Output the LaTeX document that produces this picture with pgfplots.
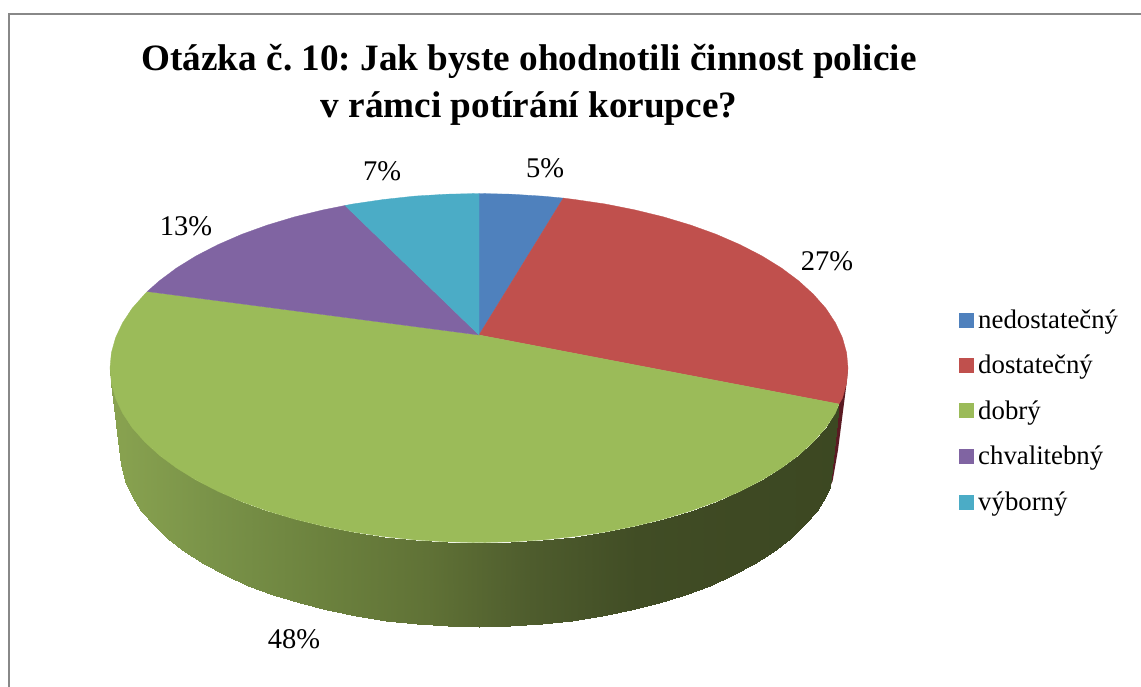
\documentclass[border=0pt]{standalone}
\usepackage{pgfplots}
\pgfplotsset{compat=1.18}
\usepackage{fontspec}
\setmainfont{Liberation Serif}
\definecolor{cblue}{RGB}{79,129,189}
\definecolor{cred}{RGB}{192,80,77}
\definecolor{cgreen}{RGB}{155,187,89}
\definecolor{cpurple}{RGB}{128,100,162}
\definecolor{ccyan}{RGB}{75,172,198}
\definecolor{cframe}{RGB}{136,136,136}
\definecolor{cdred}{RGB}{90,26,34}
\begin{document}
\frenchspacing
\begin{tikzpicture}
\begin{axis}[
  width=1141pt,height=687pt,scale only axis,
  xmin=0,xmax=1141,ymin=0,ymax=687,y dir=reverse,
  hide axis,clip=true,
  colormap={sidegreen}{rgb255=(137,163,80); rgb255=(121,146,72); rgb255=(108,130,62); rgb255=(96,114,54); rgb255=(78,92,45); rgb255=(65,77,37); rgb255=(62,73,35); rgb255=(60,72,34)},
  point meta min=110,point meta max=848,
]
% background and frame
\addplot[fill=white,draw=none] coordinates {(0,0)(1141,0)(1141,687)(0,687)} -- cycle;
\addplot[cframe,line width=2.5pt] coordinates {(1145,14)(9,14)(9,692)};
% hidden part of the red slice's side
\addplot[fill=cdred,draw=none] coordinates {(848,368)(846.6,383.2)(838,450)(832.6,481)(830,487)(839,404)} -- cycle;
% green slice side
\addplot[surf,shader=interp,mesh/rows=2,point meta=x] coordinates {
(839,404)(835.4,413.2)(825.8,427.7)(813.4,441.7)(798.6,455.3)(781.3,468.1)(761.7,480.2)(739.9,491.4)(716.2,501.7)(690.7,510.9)(663.5,519.1)(634.9,526.1)(605.2,532)(574.5,536.5)(543.1,539.9)(511.2,541.8)(479,542.5)(446.8,541.8)(414.9,539.9)(383.5,536.5)(352.8,532)(323.1,526.1)(294.5,519.1)(267.3,510.9)(241.8,501.7)(218.1,491.4)(196.3,480.2)(176.7,468.1)(159.4,455.3)(144.6,441.7)(132.2,427.7)(122.6,413.2)(115.6,398.3)(111.4,383.2)(110,368)
(830,487)(825.8,495.8)(816.5,510.5)(804.4,524.8)(789.9,538.5)(773.1,551.5)(754,563.8)(732.9,575.2)(709.8,585.6)(684.9,595)(658.5,603.3)(630.7,610.4)(601.8,616.3)(571.9,621)(541.5,624.3)(510.3,626.3)(479,627)(447.7,626.3)(416.5,624.3)(386.1,621)(356.2,616.3)(327.3,610.4)(299.5,603.3)(273.1,595)(248.2,585.6)(225.1,575.2)(204,563.8)(184.9,551.5)(168.1,538.5)(153.6,524.8)(141.5,510.5)(132.2,495.8)(125.4,480.8)(121.4,465.4)(120,450)
};
% top of the pie
\addplot[fill=cblue,draw=cblue,line width=0.3pt] coordinates {(479,335)(479,193.5)(511.2,194.2)(543.1,196.2)(563.3,198.1)} -- cycle;
\addplot[fill=cred,draw=cred,line width=0.3pt] coordinates {(479,335)(563.3,198.1)(574.5,199.5)(605.2,204)(634.9,209.9)(663.5,216.9)(690.7,225.1)(716.2,234.3)(739.9,244.6)(761.7,255.8)(781.3,267.9)(798.6,280.8)(813.4,294.3)(825.8,308.3)(835.4,322.8)(842.4,337.7)(846.6,352.8)(848,368)(846.6,383.2)(842.4,398.3)(839,404)} -- cycle;
\addplot[fill=cgreen,draw=cgreen,line width=0.3pt] coordinates {(479,335)(839,404)(835.4,413.2)(825.8,427.7)(813.4,441.7)(798.6,455.3)(781.3,468.1)(761.7,480.2)(739.9,491.4)(716.2,501.7)(690.7,510.9)(663.5,519.1)(634.9,526.1)(605.2,532)(574.5,536.5)(543.1,539.9)(511.2,541.8)(479,542.5)(446.8,541.8)(414.9,539.9)(383.5,536.5)(352.8,532)(323.1,526.1)(294.5,519.1)(267.3,510.9)(241.8,501.7)(218.1,491.4)(196.3,480.2)(176.7,468.1)(159.4,455.3)(144.6,441.7)(132.2,427.7)(122.6,413.2)(115.6,398.3)(111.4,383.2)(110,368)(111.4,352.8)(115.6,337.7)(122.6,322.8)(132.2,308.3)(144.6,294.3)(147.3,291.5)} -- cycle;
\addplot[fill=cpurple,draw=cpurple,line width=0.3pt] coordinates {(479,335)(147.3,291.5)(159.4,280.8)(176.7,267.9)(196.3,255.8)(218.1,244.6)(241.8,234.3)(267.3,225.1)(294.5,216.9)(323.1,209.9)(345,205.5)} -- cycle;
\addplot[fill=ccyan,draw=ccyan,line width=0.3pt] coordinates {(479,335)(345,205.5)(352.8,204)(383.5,199.5)(414.9,196.1)(446.8,194.2)(479,193.5)} -- cycle;
% legend keys
\addplot[only marks,mark=square*,mark size=7pt,cblue] coordinates {(966,320)};
\addplot[only marks,mark=square*,mark size=7pt,cred] coordinates {(966,365)};
\addplot[only marks,mark=square*,mark size=7pt,cgreen] coordinates {(966,410)};
\addplot[only marks,mark=square*,mark size=7pt,cpurple] coordinates {(966,456)};
\addplot[only marks,mark=square*,mark size=7pt,ccyan] coordinates {(966,502)};
% legend texts
\node[anchor=base west,inner sep=0pt,font=\fontsize{26.8}{26.8}\selectfont] at (axis cs:978,328) {nedostatečný};
\node[anchor=base west,inner sep=0pt,font=\fontsize{26.8}{26.8}\selectfont] at (axis cs:978,373) {dostatečný};
\node[anchor=base west,inner sep=0pt,font=\fontsize{26.8}{26.8}\selectfont] at (axis cs:978,419) {dobrý};
\node[anchor=base west,inner sep=0pt,font=\fontsize{26.8}{26.8}\selectfont] at (axis cs:978,464) {chvalitebný};
\node[anchor=base west,inner sep=0pt,font=\fontsize{26.8}{26.8}\selectfont] at (axis cs:978,510) {výborný};
% percentages
\node[anchor=base,inner sep=0pt,font=\fontsize{28.5}{28.5}\selectfont] at (axis cs:545,178) {5\%};
\node[anchor=base,inner sep=0pt,font=\fontsize{28.5}{28.5}\selectfont] at (axis cs:827,270) {27\%};
\node[anchor=base,inner sep=0pt,font=\fontsize{28.5}{28.5}\selectfont] at (axis cs:294,648) {48\%};
\node[anchor=base,inner sep=0pt,font=\fontsize{28.5}{28.5}\selectfont] at (axis cs:186,236) {13\%};
\node[anchor=base,inner sep=0pt,font=\fontsize{28.5}{28.5}\selectfont] at (axis cs:382,181) {7\%};
% title
\node[anchor=base,inner sep=0pt,font=\fontsize{37.2}{37.2}\selectfont\bfseries] at (axis cs:529,71) {Otázka č. 10: Jak byste ohodnotili činnost policie};
\node[anchor=base,inner sep=0pt,font=\fontsize{37.2}{37.2}\selectfont\bfseries] at (axis cs:529,118) {v rámci potírání korupce?};
\end{axis}
\end{tikzpicture}
\end{document}
